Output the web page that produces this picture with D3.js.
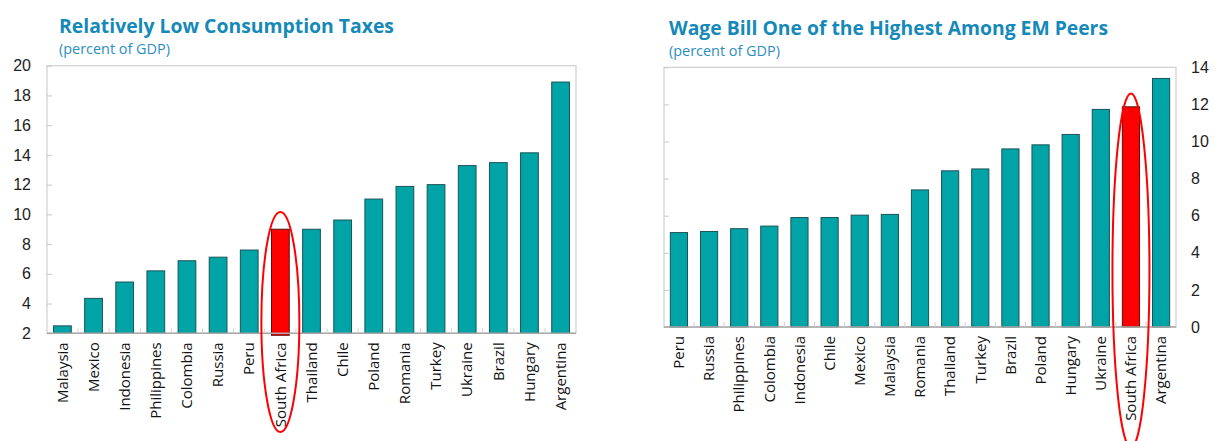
<!DOCTYPE html>
<html lang="en">
<head>
    <meta charset="UTF-8">
    <title>Consumption Taxes and Wage Bill</title>
    <script src="https://d3js.org/d3.v7.min.js"></script>
    <style>
        body {
            margin: 0;
            padding: 0;
            background: #fff;
            font-family: "Open Sans", "Noto Sans", Arial, sans-serif;
        }
        .title {
            font-weight: bold;
            fill: #1589b8;
        }
        .subtitle {
            fill: #2a8ec2;
        }
        .frame {
            fill: none;
            stroke: #cfcfcf;
            stroke-width: 1.2px;
        }
        .tick text {
            fill: #222;
        }
    </style>
</head>
<body>
<svg width="1214" height="441"></svg>

<script>
    // consumption taxes (percent of GDP)
    const taxCountries = ["Malaysia", "Mexico", "Indonesia", "Philippines", "Colombia", "Russia", "Peru",
        "South Africa", "Thailand", "Chile", "Poland", "Romania", "Turkey", "Ukraine", "Brazil", "Hungary", "Argentina"];
    const taxValues = [2.5, 4.35, 5.45, 6.2, 6.88, 7.12, 7.6, 9.0, 9.0, 9.62, 11.03, 11.88, 12.0, 13.28, 13.48, 14.14, 18.9];
    const taxTicks = [2, 4, 6, 8, 10, 12, 14, 16, 18, 20];

    // wage bill (percent of GDP)
    const wageCountries = ["Peru", "Russia", "Philippines", "Colombia", "Indonesia", "Chile", "Mexico", "Malaysia",
        "Romania", "Thailand", "Turkey", "Brazil", "Poland", "Hungary", "Ukraine", "South Africa", "Argentina"];
    const wageValues = [5.09, 5.15, 5.3, 5.44, 5.9, 5.9, 6.03, 6.07, 7.39, 8.42, 8.52, 9.6, 9.82, 10.38, 11.73, 11.87, 13.4];
    const wageTicks = [0, 2, 4, 6, 8, 10, 12, 14];

    const highlight = "South Africa";
    const teal = "#00a3a6";
    const red = "#ff0000";

    const svg = d3.select("svg");

    function drawChart(opts) {
        const g = svg.append("g");
        const x = d3.scaleBand()
            .domain(opts.countries)
            .range([opts.left, opts.right])
            .paddingInner(0.43)
            .paddingOuter(0.21);
        const y = d3.scaleLinear()
            .domain(opts.domain)
            .range([opts.bottom, opts.top]);

        // titles
        g.append("text")
            .attr("class", "title")
            .attr("x", opts.titleX)
            .attr("y", opts.titleY)
            .attr("font-size", 19)
            .attr("textLength", opts.titleLen)
            .attr("lengthAdjust", "spacingAndGlyphs")
            .text(opts.title);
        g.append("text")
            .attr("class", "subtitle")
            .attr("x", opts.titleX)
            .attr("y", opts.titleY + 21)
            .attr("font-size", 14)
            .attr("textLength", 111)
            .attr("lengthAdjust", "spacingAndGlyphs")
            .text("(percent of GDP)");

        // frame
        g.append("rect")
            .attr("class", "frame")
            .attr("x", opts.left)
            .attr("y", opts.top)
            .attr("width", opts.right - opts.left)
            .attr("height", opts.bottom - opts.top);

        // inward ticks on left side
        const ax = g.append("g")
            .attr("transform", `translate(${opts.left},0)`)
            .call(d3.axisLeft(y).tickValues(opts.ticks).tickSize(-5).tickPadding(16)
                .tickFormat(opts.labelsLeft ? d3.format("d") : ""));
        ax.select(".domain").remove();
        ax.selectAll(".tick line").attr("stroke", "#c8c8c8");
        ax.selectAll(".tick text").attr("font-size", 16);

        if (!opts.labelsLeft) {
            const ay = g.append("g")
                .attr("transform", `translate(${opts.right},0)`)
                .call(d3.axisRight(y).tickValues(opts.ticks).tickSize(0).tickPadding(15).tickFormat(d3.format("d")));
            ay.select(".domain").remove();
            ay.selectAll(".tick text").attr("font-size", 16);
        }

        // bars
        g.append("g")
            .selectAll("rect")
            .data(opts.countries)
            .enter().append("rect")
            .attr("x", (d) => x(d))
            .attr("width", x.bandwidth())
            .attr("y", (d, i) => y(opts.values[i]))
            .attr("height", (d, i) => y(opts.domain[0]) - y(opts.values[i]) + (d === highlight ? opts.redDrop : 0))
            .attr("fill", (d) => d === highlight ? red : teal)
            .attr("stroke", (d) => d === highlight ? "#5a1010" : "#1b5456")
            .attr("stroke-width", 1);

        // bottom axis line with inward ticks between bars
        g.append("line")
            .attr("x1", opts.left).attr("x2", opts.right)
            .attr("y1", opts.bottom).attr("y2", opts.bottom)
            .attr("stroke", "#a8a8a8")
            .attr("stroke-width", 1.5);
        const step = x.step();
        g.append("g")
            .selectAll("line")
            .data(opts.countries.slice(1))
            .enter().append("line")
            .attr("x1", (d) => x(d) - (step - x.bandwidth()) / 2)
            .attr("x2", (d) => x(d) - (step - x.bandwidth()) / 2)
            .attr("y1", opts.bottom)
            .attr("y2", opts.bottom - 5)
            .attr("stroke", "#d0d0d0");

        // category labels
        g.append("g")
            .selectAll("text")
            .data(opts.countries)
            .enter().append("text")
            .attr("transform", (d) => `translate(${x(d) + x.bandwidth() / 2},${opts.bottom + opts.labelGap}) rotate(-90)`)
            .attr("text-anchor", "end")
            .attr("dy", "0.35em")
            .attr("font-size", 15)
            .attr("fill", "#111")
            .text((d) => d);

        // highlight ellipse
        g.append("ellipse")
            .attr("cx", x(highlight) + x.bandwidth() / 2)
            .attr("cy", opts.ellipse[0])
            .attr("rx", opts.ellipse[1])
            .attr("ry", opts.ellipse[2])
            .attr("fill", "none")
            .attr("stroke", red)
            .attr("stroke-width", 2);
    }

    drawChart({
        countries: taxCountries, values: taxValues, ticks: taxTicks, domain: [2, 20],
        left: 47, right: 576, top: 65.7, bottom: 333.3,
        title: "Relatively Low Consumption Taxes", titleX: 59, titleY: 33, titleLen: 335,
        labelsLeft: true, labelGap: 9, redDrop: 2, ellipse: [322, 19, 110]
    });

    drawChart({
        countries: wageCountries, values: wageValues, ticks: wageTicks, domain: [0, 14],
        left: 664, right: 1176, top: 67.3, bottom: 327,
        title: "Wage Bill One of the Highest Among EM Peers", titleX: 669, titleY: 35, titleLen: 439,
        labelsLeft: false, labelGap: 9, redDrop: 0, ellipse: [270.5, 18.5, 177]
    });
</script>
</body>
</html>
